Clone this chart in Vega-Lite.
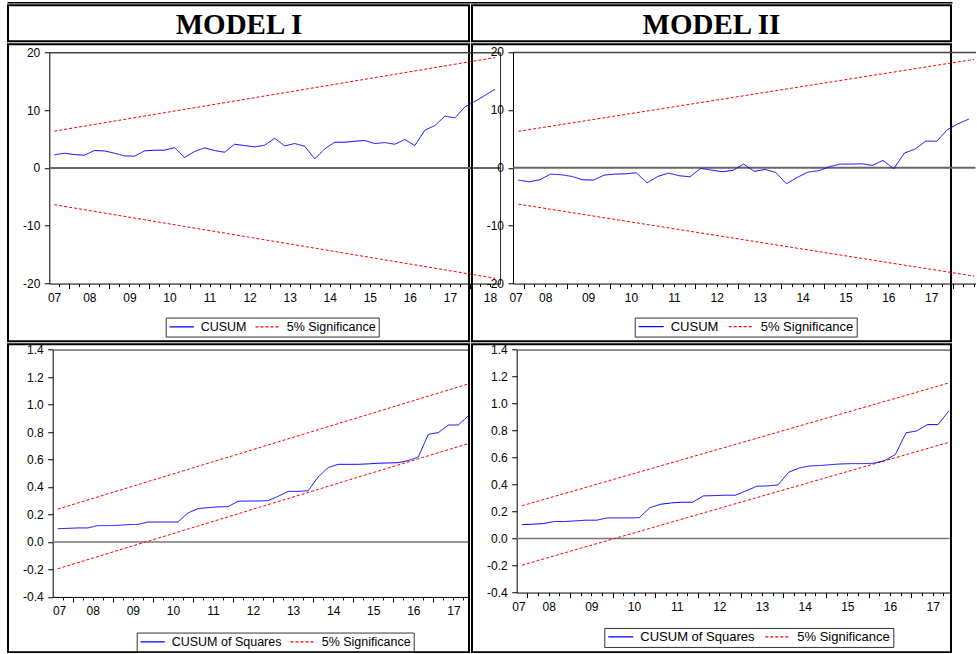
{
"$schema": "https://vega.github.io/schema/vega-lite/v6.json",
"padding": {"left": 7, "top": 1.25, "right": 0, "bottom": 0},
"background": "white",
"datasets": {
"m1": [
{"t":2007.625,"v":2.25,"s":"CUSUM"},{"t":2007.875,"v":2.54,"s":"CUSUM"},{"t":2008.125,"v":2.31,"s":"CUSUM"},{"t":2008.375,"v":2.19,"s":"CUSUM"},
{"t":2008.625,"v":3.0,"s":"CUSUM"},{"t":2008.875,"v":2.94,"s":"CUSUM"},{"t":2009.125,"v":2.54,"s":"CUSUM"},{"t":2009.375,"v":2.08,"s":"CUSUM"},
{"t":2009.625,"v":2.02,"s":"CUSUM"},{"t":2009.875,"v":2.94,"s":"CUSUM"},{"t":2010.125,"v":3.06,"s":"CUSUM"},{"t":2010.375,"v":3.06,"s":"CUSUM"},
{"t":2010.625,"v":3.52,"s":"CUSUM"},{"t":2010.875,"v":1.79,"s":"CUSUM"},{"t":2011.125,"v":2.83,"s":"CUSUM"},{"t":2011.375,"v":3.46,"s":"CUSUM"},
{"t":2011.625,"v":3.0,"s":"CUSUM"},{"t":2011.875,"v":2.71,"s":"CUSUM"},{"t":2012.125,"v":4.09,"s":"CUSUM"},{"t":2012.375,"v":3.86,"s":"CUSUM"},
{"t":2012.625,"v":3.63,"s":"CUSUM"},{"t":2012.875,"v":3.92,"s":"CUSUM"},{"t":2013.125,"v":5.13,"s":"CUSUM"},{"t":2013.375,"v":3.81,"s":"CUSUM"},
{"t":2013.625,"v":4.21,"s":"CUSUM"},{"t":2013.875,"v":3.75,"s":"CUSUM"},{"t":2014.125,"v":1.56,"s":"CUSUM"},{"t":2014.375,"v":3.29,"s":"CUSUM"},
{"t":2014.625,"v":4.44,"s":"CUSUM"},{"t":2014.875,"v":4.44,"s":"CUSUM"},{"t":2015.125,"v":4.61,"s":"CUSUM"},{"t":2015.375,"v":4.73,"s":"CUSUM"},
{"t":2015.625,"v":4.21,"s":"CUSUM"},{"t":2015.875,"v":4.38,"s":"CUSUM"},{"t":2016.125,"v":4.09,"s":"CUSUM"},{"t":2016.375,"v":4.9,"s":"CUSUM"},
{"t":2016.625,"v":3.86,"s":"CUSUM"},{"t":2016.875,"v":6.52,"s":"CUSUM"},{"t":2017.125,"v":7.33,"s":"CUSUM"},{"t":2017.375,"v":8.94,"s":"CUSUM"},
{"t":2017.625,"v":8.65,"s":"CUSUM"},{"t":2017.875,"v":10.55,"s":"CUSUM"},{"t":2018.125,"v":11.5,"s":"CUSUM"},{"t":2018.375,"v":12.55,"s":"CUSUM"},
{"t":2018.625,"v":13.6,"s":"CUSUM"}
],
"m1b": [
{"t":2007.625,"v":6.36,"s":"5% Significance","b":"upper"},{"t":2018.625,"v":19.08,"s":"5% Significance","b":"upper"},
{"t":2007.625,"v":-6.36,"s":"5% Significance","b":"lower"},{"t":2018.625,"v":-19.08,"s":"5% Significance","b":"lower"}
],
"m2": [
{"t":2007.875,"v":-2.13,"s":"CUSUM"},{"t":2008.125,"v":-2.42,"s":"CUSUM"},{"t":2008.375,"v":-2.08,"s":"CUSUM"},{"t":2008.625,"v":-1.1,"s":"CUSUM"},
{"t":2008.875,"v":-1.21,"s":"CUSUM"},{"t":2009.125,"v":-1.5,"s":"CUSUM"},{"t":2009.375,"v":-2.08,"s":"CUSUM"},{"t":2009.625,"v":-2.13,"s":"CUSUM"},
{"t":2009.875,"v":-1.27,"s":"CUSUM"},{"t":2010.125,"v":-1.1,"s":"CUSUM"},{"t":2010.375,"v":-1.04,"s":"CUSUM"},{"t":2010.625,"v":-0.87,"s":"CUSUM"},
{"t":2010.875,"v":-2.6,"s":"CUSUM"},{"t":2011.125,"v":-1.5,"s":"CUSUM"},{"t":2011.375,"v":-0.92,"s":"CUSUM"},{"t":2011.625,"v":-1.38,"s":"CUSUM"},
{"t":2011.875,"v":-1.56,"s":"CUSUM"},{"t":2012.125,"v":-0.12,"s":"CUSUM"},{"t":2012.375,"v":-0.4,"s":"CUSUM"},{"t":2012.625,"v":-0.69,"s":"CUSUM"},
{"t":2012.875,"v":-0.46,"s":"CUSUM"},{"t":2013.125,"v":0.63,"s":"CUSUM"},{"t":2013.375,"v":-0.63,"s":"CUSUM"},{"t":2013.625,"v":-0.29,"s":"CUSUM"},
{"t":2013.875,"v":-0.81,"s":"CUSUM"},{"t":2014.125,"v":-2.77,"s":"CUSUM"},{"t":2014.375,"v":-1.67,"s":"CUSUM"},{"t":2014.625,"v":-0.75,"s":"CUSUM"},
{"t":2014.875,"v":-0.52,"s":"CUSUM"},{"t":2015.125,"v":0.17,"s":"CUSUM"},{"t":2015.375,"v":0.63,"s":"CUSUM"},{"t":2015.625,"v":0.63,"s":"CUSUM"},
{"t":2015.875,"v":0.69,"s":"CUSUM"},{"t":2016.125,"v":0.4,"s":"CUSUM"},{"t":2016.375,"v":1.27,"s":"CUSUM"},{"t":2016.625,"v":-0.17,"s":"CUSUM"},
{"t":2016.875,"v":2.54,"s":"CUSUM"},{"t":2017.125,"v":3.23,"s":"CUSUM"},{"t":2017.375,"v":4.61,"s":"CUSUM"},{"t":2017.625,"v":4.56,"s":"CUSUM"},
{"t":2017.875,"v":6.57,"s":"CUSUM"},{"t":2018.125,"v":7.6,"s":"CUSUM"},{"t":2018.375,"v":8.4,"s":"CUSUM"}
],
"m2b": [
{"t":2007.875,"v":6.29,"s":"5% Significance","b":"upper"},{"t":2018.5,"v":18.72,"s":"5% Significance","b":"upper"},
{"t":2007.875,"v":-6.29,"s":"5% Significance","b":"lower"},{"t":2018.5,"v":-18.72,"s":"5% Significance","b":"lower"}
],
"q1": [
{"t":2007.625,"v":0.097,"s":"CUSUM of Squares"},{"t":2007.875,"v":0.099,"s":"CUSUM of Squares"},{"t":2008.125,"v":0.102,"s":"CUSUM of Squares"},{"t":2008.375,"v":0.102,"s":"CUSUM of Squares"},
{"t":2008.625,"v":0.119,"s":"CUSUM of Squares"},{"t":2008.875,"v":0.119,"s":"CUSUM of Squares"},{"t":2009.125,"v":0.121,"s":"CUSUM of Squares"},{"t":2009.375,"v":0.126,"s":"CUSUM of Squares"},
{"t":2009.625,"v":0.128,"s":"CUSUM of Squares"},{"t":2009.875,"v":0.145,"s":"CUSUM of Squares"},{"t":2010.125,"v":0.145,"s":"CUSUM of Squares"},{"t":2010.375,"v":0.145,"s":"CUSUM of Squares"},
{"t":2010.625,"v":0.145,"s":"CUSUM of Squares"},{"t":2010.875,"v":0.211,"s":"CUSUM of Squares"},{"t":2011.125,"v":0.242,"s":"CUSUM of Squares"},{"t":2011.375,"v":0.25,"s":"CUSUM of Squares"},
{"t":2011.625,"v":0.255,"s":"CUSUM of Squares"},{"t":2011.875,"v":0.257,"s":"CUSUM of Squares"},{"t":2012.125,"v":0.296,"s":"CUSUM of Squares"},{"t":2012.375,"v":0.298,"s":"CUSUM of Squares"},
{"t":2012.625,"v":0.298,"s":"CUSUM of Squares"},{"t":2012.875,"v":0.301,"s":"CUSUM of Squares"},{"t":2013.125,"v":0.332,"s":"CUSUM of Squares"},{"t":2013.375,"v":0.368,"s":"CUSUM of Squares"},
{"t":2013.625,"v":0.368,"s":"CUSUM of Squares"},{"t":2013.875,"v":0.373,"s":"CUSUM of Squares"},{"t":2014.125,"v":0.473,"s":"CUSUM of Squares"},{"t":2014.375,"v":0.541,"s":"CUSUM of Squares"},
{"t":2014.625,"v":0.565,"s":"CUSUM of Squares"},{"t":2014.875,"v":0.565,"s":"CUSUM of Squares"},{"t":2015.125,"v":0.565,"s":"CUSUM of Squares"},{"t":2015.375,"v":0.568,"s":"CUSUM of Squares"},
{"t":2015.625,"v":0.573,"s":"CUSUM of Squares"},{"t":2015.875,"v":0.575,"s":"CUSUM of Squares"},{"t":2016.125,"v":0.577,"s":"CUSUM of Squares"},{"t":2016.375,"v":0.592,"s":"CUSUM of Squares"},
{"t":2016.625,"v":0.618,"s":"CUSUM of Squares"},{"t":2016.875,"v":0.783,"s":"CUSUM of Squares"},{"t":2017.125,"v":0.796,"s":"CUSUM of Squares"},{"t":2017.375,"v":0.851,"s":"CUSUM of Squares"},
{"t":2017.625,"v":0.851,"s":"CUSUM of Squares"},{"t":2017.875,"v":0.919,"s":"CUSUM of Squares"}
],
"q1b": [
{"t":2007.625,"v":0.239,"s":"5% Significance","b":"upper"},{"t":2017.875,"v":1.15,"s":"5% Significance","b":"upper"},
{"t":2007.625,"v":-0.195,"s":"5% Significance","b":"lower"},{"t":2017.875,"v":0.716,"s":"5% Significance","b":"lower"}
],
"q2": [
{"t":2007.875,"v":0.104,"s":"CUSUM of Squares"},{"t":2008.125,"v":0.106,"s":"CUSUM of Squares"},{"t":2008.375,"v":0.111,"s":"CUSUM of Squares"},{"t":2008.625,"v":0.126,"s":"CUSUM of Squares"},
{"t":2008.875,"v":0.126,"s":"CUSUM of Squares"},{"t":2009.125,"v":0.131,"s":"CUSUM of Squares"},{"t":2009.375,"v":0.136,"s":"CUSUM of Squares"},{"t":2009.625,"v":0.136,"s":"CUSUM of Squares"},
{"t":2009.875,"v":0.153,"s":"CUSUM of Squares"},{"t":2010.125,"v":0.153,"s":"CUSUM of Squares"},{"t":2010.375,"v":0.153,"s":"CUSUM of Squares"},{"t":2010.625,"v":0.155,"s":"CUSUM of Squares"},
{"t":2010.875,"v":0.229,"s":"CUSUM of Squares"},{"t":2011.125,"v":0.254,"s":"CUSUM of Squares"},{"t":2011.375,"v":0.264,"s":"CUSUM of Squares"},{"t":2011.625,"v":0.269,"s":"CUSUM of Squares"},
{"t":2011.875,"v":0.269,"s":"CUSUM of Squares"},{"t":2012.125,"v":0.316,"s":"CUSUM of Squares"},{"t":2012.375,"v":0.318,"s":"CUSUM of Squares"},{"t":2012.625,"v":0.321,"s":"CUSUM of Squares"},
{"t":2012.875,"v":0.321,"s":"CUSUM of Squares"},{"t":2013.125,"v":0.353,"s":"CUSUM of Squares"},{"t":2013.375,"v":0.387,"s":"CUSUM of Squares"},{"t":2013.625,"v":0.39,"s":"CUSUM of Squares"},
{"t":2013.875,"v":0.397,"s":"CUSUM of Squares"},{"t":2014.125,"v":0.491,"s":"CUSUM of Squares"},{"t":2014.375,"v":0.523,"s":"CUSUM of Squares"},{"t":2014.625,"v":0.538,"s":"CUSUM of Squares"},
{"t":2014.875,"v":0.541,"s":"CUSUM of Squares"},{"t":2015.125,"v":0.548,"s":"CUSUM of Squares"},{"t":2015.375,"v":0.553,"s":"CUSUM of Squares"},{"t":2015.625,"v":0.555,"s":"CUSUM of Squares"},
{"t":2015.875,"v":0.555,"s":"CUSUM of Squares"},{"t":2016.125,"v":0.558,"s":"CUSUM of Squares"},{"t":2016.375,"v":0.578,"s":"CUSUM of Squares"},{"t":2016.625,"v":0.622,"s":"CUSUM of Squares"},
{"t":2016.875,"v":0.783,"s":"CUSUM of Squares"},{"t":2017.125,"v":0.797,"s":"CUSUM of Squares"},{"t":2017.375,"v":0.844,"s":"CUSUM of Squares"},{"t":2017.625,"v":0.844,"s":"CUSUM of Squares"},
{"t":2017.875,"v":0.943,"s":"CUSUM of Squares"}
],
"q2b": [
{"t":2007.875,"v":0.243,"s":"5% Significance","b":"upper"},{"t":2017.875,"v":1.152,"s":"5% Significance","b":"upper"},
{"t":2007.875,"v":-0.197,"s":"5% Significance","b":"lower"},{"t":2017.875,"v":0.712,"s":"5% Significance","b":"lower"}
]
},
"columns": 2,
"spacing": {"row": 3, "column": 3},
"bounds": "flush",
"resolve": {"scale": {"color": "independent", "strokeDash": "independent"}, "legend": {"color": "independent", "strokeDash": "independent"}},
"concat": [
 {"width": 461, "height": 36, "data": {"values": [{"m": "MODEL I"}]},
  "mark": {"type": "text", "font": "Liberation Serif", "fontWeight": "bold", "fontSize": 29, "baseline": "alphabetic", "dy": 11, "color": "black"},
  "encoding": {
   "x": {"datum": 0.5, "type": "quantitative", "scale": {"domain": [0, 1], "range": [-1, 463], "nice": false, "zero": false}, "axis": {"orient": "top", "offset": 3, "labels": false, "ticks": false, "domainColor": "black", "domainWidth": 1.5, "title": null}},
   "y": {"datum": 0.5, "type": "quantitative", "scale": {"domain": [0, 1], "range": [36, 0], "nice": false, "zero": false}, "axis": null},
   "text": {"field": "m"}}},
 {"width": 479, "height": 36, "data": {"values": [{"m": "MODEL II"}]},
  "mark": {"type": "text", "font": "Liberation Serif", "fontWeight": "bold", "fontSize": 29, "baseline": "alphabetic", "dy": 11, "color": "black"},
  "encoding": {
   "x": {"datum": 0.5, "type": "quantitative", "scale": {"domain": [0, 1], "range": [-1, 480], "nice": false, "zero": false}, "axis": {"orient": "top", "offset": 3, "labels": false, "ticks": false, "domainColor": "black", "domainWidth": 1.5, "title": null}},
   "y": {"datum": 0.5, "type": "quantitative", "scale": {"domain": [0, 1], "range": [36, 0], "nice": false, "zero": false}, "axis": null},
   "text": {"field": "m"}}},
  {"width": 461, "height": 297,
   "layer": [
    {"data": {"values": [{}]},
     "mark": {"type": "rule", "color": "#666666", "strokeWidth": 2},
     "encoding": {
      "x": {"datum": 2007.5, "type": "quantitative", "scale": {"domain": [2007.5, 2018.75], "range": [41.3, 492], "nice": false, "zero": false}, "axis": {"orient": "top", "offset": -8, "labels": false, "ticks": false, "domainColor": "#444444", "domainWidth": 1.5, "title": null}},
      "x2": {"datum": 2018.75},
      "y": {"datum": 0, "type": "quantitative", "scale": {"domain": [-20, 20], "range": [239.3, 8], "nice": false, "zero": false}, "axis": {"orient": "right", "offset": 31, "labels": false, "ticks": false, "domainColor": "#333333", "title": null}}}},
    {"data": {"name": "m1b"}, "transform": [{"filter": "datum.b == 'upper'"}],
     "mark": {"type": "line", "strokeWidth": 1},
     "encoding": {
      "x": {"field": "t", "type": "quantitative", "scale": {"domain": [2007.5, 2018.75], "range": [41.3, 492], "nice": false, "zero": false}, "axis": {"orient": "bottom", "offset": -57.7, "values": [2007.75,2008.25,2008.5,2008.75,2009.25,2009.5,2009.75,2010.25,2010.5,2010.75,2011.25,2011.5,2011.75,2012.25,2012.5,2012.75,2013.25,2013.5,2013.75,2014.25,2014.5,2014.75,2015.25,2015.5,2015.75,2016.25,2016.5,2016.75,2017.25,2017.5,2017.75,2018.25,2018.5], "labels": false, "domain": false, "tickSize": 3, "title": null}},
      "y": {"field": "v", "type": "quantitative", "scale": {"domain": [-20, 20], "range": [239.3, 8], "nice": false, "zero": false}, "axis": null},
      "color": {"field": "s", "type": "nominal", "scale": {"domain": ["CUSUM", "5% Significance"], "range": ["#0000ff", "#ff0000"]}, "legend": {"title": null, "orient": "none", "legendX": 157.7, "legendY": 273.3, "direction": "horizontal", "symbolType": "stroke", "symbolSize": 595, "symbolStrokeWidth": 1.2, "labelFontSize": 12.5, "labelFont": "Liberation Sans", "labelColor": "black", "strokeColor": "#333333", "padding": 3, "clipHeight": 12, "columnPadding": 8, "labelOffset": 6}},
      "strokeDash": {"field": "s", "type": "nominal", "scale": {"domain": ["CUSUM", "5% Significance"], "range": [[1, 0], [3, 2]]}, "legend": {"title": null, "orient": "none", "legendX": 157.7, "legendY": 273.3, "direction": "horizontal", "symbolType": "stroke", "symbolSize": 595, "symbolStrokeWidth": 1.2, "labelFontSize": 12.5, "labelFont": "Liberation Sans", "labelColor": "black", "strokeColor": "#333333", "padding": 3, "clipHeight": 12, "columnPadding": 8, "labelOffset": 6}}}},
    {"data": {"name": "m1b"}, "transform": [{"filter": "datum.b == 'lower'"}],
     "mark": {"type": "line", "strokeWidth": 1},
     "encoding": {
      "x": {"field": "t", "type": "quantitative", "scale": {"domain": [2007.5, 2018.75], "range": [41.3, 492], "nice": false, "zero": false}, "axis": {"orient": "bottom", "offset": -57.7, "values": [2007.62,2008.5,2009.5,2010.5,2011.5,2012.5,2013.5,2014.5,2015.5,2016.5,2017.5,2018.5], "ticks": false, "domain": false, "labelPadding": 8.5, "labelExpr": "format(floor(datum.value) % 100, '02d')", "labelFlush": false, "labelOverlap": false, "labelBound": false, "title": null}},
      "y": {"field": "v", "type": "quantitative", "scale": {"domain": [-20, 20], "range": [239.3, 8], "nice": false, "zero": false}, "axis": null},
      "color": {"field": "s", "type": "nominal", "scale": {"domain": ["CUSUM", "5% Significance"], "range": ["#0000ff", "#ff0000"]}},
      "strokeDash": {"field": "s", "type": "nominal", "scale": {"domain": ["CUSUM", "5% Significance"], "range": [[1, 0], [3, 2]]}}}},
    {"data": {"name": "m1"},
     "mark": {"type": "line", "strokeWidth": 1},
     "encoding": {
      "x": {"field": "t", "type": "quantitative", "scale": {"domain": [2007.5, 2018.75], "range": [41.3, 492], "nice": false, "zero": false}, "axis": {"orient": "bottom", "offset": -57.7, "values": [2008,2009,2010,2011,2012,2013,2014,2015,2016,2017,2018], "labels": false, "tickSize": 5, "title": null}},
      "y": {"field": "v", "type": "quantitative", "scale": {"domain": [-20, 20], "range": [239.3, 8], "nice": false, "zero": false}, "axis": {"orient": "left", "offset": -41.3, "values": [-20, -10, 0, 10, 20], "tickSize": 5, "labelPadding": 4.5, "labelExpr": "toString(datum.value)", "labelFlush": false, "labelOverlap": false, "title": null}},
      "color": {"field": "s", "type": "nominal", "scale": {"domain": ["CUSUM", "5% Significance"], "range": ["#0000ff", "#ff0000"]}},
      "strokeDash": {"field": "s", "type": "nominal", "scale": {"domain": ["CUSUM", "5% Significance"], "range": [[1, 0], [3, 2]]}}}}
   ],
   "resolve": {"axis": {"x": "independent", "y": "independent"}}},
  {"width": 479, "height": 297,
   "layer": [
    {"data": {"values": [{}]},
     "mark": {"type": "rule", "color": "#666666", "strokeWidth": 2},
     "encoding": {
      "x": {"datum": 2007.75, "type": "quantitative", "scale": {"domain": [2007.75, 2018.531], "range": [41, 503.5], "nice": false, "zero": false}, "axis": {"orient": "top", "offset": -7.7, "labels": false, "ticks": false, "domainColor": "#444444", "domainWidth": 1.5, "title": null}},
      "x2": {"datum": 2018.531},
      "y": {"datum": 0, "type": "quantitative", "scale": {"domain": [-20, 20], "range": [239.3, 7.7], "nice": false, "zero": false}, "axis": null}}},
    {"data": {"name": "m2b"}, "transform": [{"filter": "datum.b == 'upper'"}],
     "mark": {"type": "line", "strokeWidth": 1},
     "encoding": {
      "x": {"field": "t", "type": "quantitative", "scale": {"domain": [2007.75, 2018.531], "range": [41, 503.5], "nice": false, "zero": false}, "axis": {"orient": "bottom", "offset": -57.7, "values": [2008.25,2008.5,2008.75,2009.25,2009.5,2009.75,2010.25,2010.5,2010.75,2011.25,2011.5,2011.75,2012.25,2012.5,2012.75,2013.25,2013.5,2013.75,2014.25,2014.5,2014.75,2015.25,2015.5,2015.75,2016.25,2016.5,2016.75,2017.25,2017.5,2017.75,2018.25,2018.5], "labels": false, "domain": false, "tickSize": 3, "title": null}},
      "y": {"field": "v", "type": "quantitative", "scale": {"domain": [-20, 20], "range": [239.3, 7.7], "nice": false, "zero": false}, "axis": null},
      "color": {"field": "s", "type": "nominal", "scale": {"domain": ["CUSUM", "5% Significance"], "range": ["#0000ff", "#ff0000"]}, "legend": {"title": null, "orient": "none", "legendX": 162.7, "legendY": 273.3, "direction": "horizontal", "symbolType": "stroke", "symbolSize": 625, "symbolStrokeWidth": 1.2, "labelFontSize": 13, "labelFont": "Liberation Sans", "labelColor": "black", "strokeColor": "#333333", "padding": 3, "clipHeight": 12, "columnPadding": 9, "labelOffset": 6}},
      "strokeDash": {"field": "s", "type": "nominal", "scale": {"domain": ["CUSUM", "5% Significance"], "range": [[1, 0], [3, 2]]}, "legend": {"title": null, "orient": "none", "legendX": 162.7, "legendY": 273.3, "direction": "horizontal", "symbolType": "stroke", "symbolSize": 625, "symbolStrokeWidth": 1.2, "labelFontSize": 13, "labelFont": "Liberation Sans", "labelColor": "black", "strokeColor": "#333333", "padding": 3, "clipHeight": 12, "columnPadding": 9, "labelOffset": 6}}}},
    {"data": {"name": "m2b"}, "transform": [{"filter": "datum.b == 'lower'"}],
     "mark": {"type": "line", "strokeWidth": 1},
     "encoding": {
      "x": {"field": "t", "type": "quantitative", "scale": {"domain": [2007.75, 2018.531], "range": [41, 503.5], "nice": false, "zero": false}, "axis": {"orient": "bottom", "offset": -57.7, "values": [2007.81,2008.5,2009.5,2010.5,2011.5,2012.5,2013.5,2014.5,2015.5,2016.5,2017.5], "ticks": false, "domain": false, "labelPadding": 8.5, "labelExpr": "format(floor(datum.value) % 100, '02d')", "labelFlush": false, "labelOverlap": false, "labelBound": false, "title": null}},
      "y": {"field": "v", "type": "quantitative", "scale": {"domain": [-20, 20], "range": [239.3, 7.7], "nice": false, "zero": false}, "axis": null},
      "color": {"field": "s", "type": "nominal", "scale": {"domain": ["CUSUM", "5% Significance"], "range": ["#0000ff", "#ff0000"]}},
      "strokeDash": {"field": "s", "type": "nominal", "scale": {"domain": ["CUSUM", "5% Significance"], "range": [[1, 0], [3, 2]]}}}},
    {"data": {"name": "m2"},
     "mark": {"type": "line", "strokeWidth": 1},
     "encoding": {
      "x": {"field": "t", "type": "quantitative", "scale": {"domain": [2007.75, 2018.531], "range": [41, 503.5], "nice": false, "zero": false}, "axis": {"orient": "bottom", "offset": -57.7, "values": [2008,2009,2010,2011,2012,2013,2014,2015,2016,2017,2018], "labels": false, "tickSize": 5, "title": null}},
      "y": {"field": "v", "type": "quantitative", "scale": {"domain": [-20, 20], "range": [239.3, 7.7], "nice": false, "zero": false}, "axis": {"orient": "left", "offset": -41, "values": [-20, -10, 0, 10, 20], "tickSize": 5, "labelPadding": 4.5, "labelExpr": "toString(datum.value)", "labelFlush": false, "labelOverlap": false, "title": null}},
      "color": {"field": "s", "type": "nominal", "scale": {"domain": ["CUSUM", "5% Significance"], "range": ["#0000ff", "#ff0000"]}},
      "strokeDash": {"field": "s", "type": "nominal", "scale": {"domain": ["CUSUM", "5% Significance"], "range": [[1, 0], [3, 2]]}}}}
   ],
   "resolve": {"axis": {"x": "independent", "y": "independent"}}},
  {"width": 461, "height": 308,
   "layer": [
    {"data": {"values": [{}]},
     "mark": {"type": "rule", "color": "#777777", "strokeWidth": 1.5},
     "encoding": {
      "x": {"datum": 2007.5, "type": "quantitative", "scale": {"domain": [2007.5, 2017.875], "range": [44.7, 460.4], "nice": false, "zero": false}, "axis": {"orient": "top", "offset": -5.3, "labels": false, "ticks": false, "domainColor": "#222222", "title": null}},
      "x2": {"datum": 2017.875},
      "y": {"datum": 0, "type": "quantitative", "scale": {"domain": [-0.4, 1.4], "range": [252.7, 5.3], "nice": false, "zero": false}, "axis": null}}},
    {"data": {"name": "q1b"}, "transform": [{"filter": "datum.b == 'upper'"}],
     "mark": {"type": "line", "strokeWidth": 1},
     "encoding": {
      "x": {"field": "t", "type": "quantitative", "scale": {"domain": [2007.5, 2017.875], "range": [44.7, 460.4], "nice": false, "zero": false}, "axis": {"orient": "bottom", "offset": -55.3, "values": [2007.75,2008.25,2008.5,2008.75,2009.25,2009.5,2009.75,2010.25,2010.5,2010.75,2011.25,2011.5,2011.75,2012.25,2012.5,2012.75,2013.25,2013.5,2013.75,2014.25,2014.5,2014.75,2015.25,2015.5,2015.75,2016.25,2016.5,2016.75,2017.25,2017.5,2017.75], "labels": false, "domain": false, "tickSize": 3, "title": null}},
      "y": {"field": "v", "type": "quantitative", "scale": {"domain": [-0.4, 1.4], "range": [252.7, 5.3], "nice": false, "zero": false}, "axis": null},
      "color": {"field": "s", "type": "nominal", "scale": {"domain": ["CUSUM of Squares", "5% Significance"], "range": ["#0000ff", "#ff0000"]}, "legend": {"title": null, "orient": "none", "legendX": 128.7, "legendY": 288.3, "direction": "horizontal", "symbolType": "stroke", "symbolSize": 590, "symbolStrokeWidth": 1.2, "labelFontSize": 12.5, "labelFont": "Liberation Sans", "labelColor": "black", "strokeColor": "#333333", "padding": 3, "clipHeight": 12, "columnPadding": 8, "labelOffset": 6}},
      "strokeDash": {"field": "s", "type": "nominal", "scale": {"domain": ["CUSUM of Squares", "5% Significance"], "range": [[1, 0], [3, 2]]}, "legend": {"title": null, "orient": "none", "legendX": 128.7, "legendY": 288.3, "direction": "horizontal", "symbolType": "stroke", "symbolSize": 590, "symbolStrokeWidth": 1.2, "labelFontSize": 12.5, "labelFont": "Liberation Sans", "labelColor": "black", "strokeColor": "#333333", "padding": 3, "clipHeight": 12, "columnPadding": 8, "labelOffset": 6}}}},
    {"data": {"name": "q1b"}, "transform": [{"filter": "datum.b == 'lower'"}],
     "mark": {"type": "line", "strokeWidth": 1},
     "encoding": {
      "x": {"field": "t", "type": "quantitative", "scale": {"domain": [2007.5, 2017.875], "range": [44.7, 460.4], "nice": false, "zero": false}, "axis": {"orient": "bottom", "offset": -55.3, "values": [2007.66,2008.5,2009.5,2010.5,2011.5,2012.5,2013.5,2014.5,2015.5,2016.5,2017.5], "ticks": false, "domain": false, "labelPadding": 8.5, "labelExpr": "format(floor(datum.value) % 100, '02d')", "labelFlush": false, "labelOverlap": false, "labelBound": false, "title": null}},
      "y": {"field": "v", "type": "quantitative", "scale": {"domain": [-0.4, 1.4], "range": [252.7, 5.3], "nice": false, "zero": false}, "axis": null},
      "color": {"field": "s", "type": "nominal", "scale": {"domain": ["CUSUM of Squares", "5% Significance"], "range": ["#0000ff", "#ff0000"]}},
      "strokeDash": {"field": "s", "type": "nominal", "scale": {"domain": ["CUSUM of Squares", "5% Significance"], "range": [[1, 0], [3, 2]]}}}},
    {"data": {"name": "q1"},
     "mark": {"type": "line", "strokeWidth": 1},
     "encoding": {
      "x": {"field": "t", "type": "quantitative", "scale": {"domain": [2007.5, 2017.875], "range": [44.7, 460.4], "nice": false, "zero": false}, "axis": {"orient": "bottom", "offset": -55.3, "values": [2008,2009,2010,2011,2012,2013,2014,2015,2016,2017], "labels": false, "tickSize": 5, "title": null}},
      "y": {"field": "v", "type": "quantitative", "scale": {"domain": [-0.4, 1.4], "range": [252.7, 5.3], "nice": false, "zero": false}, "axis": {"orient": "left", "offset": -44.7, "values": [-0.4, -0.2, 0, 0.2, 0.4, 0.6, 0.8, 1.0, 1.2, 1.4], "tickSize": 5, "labelPadding": 4.5, "labelExpr": "replace(format(datum.value, '.1f'), '\u2212', '-')", "labelFlush": false, "labelOverlap": false, "title": null}},
      "color": {"field": "s", "type": "nominal", "scale": {"domain": ["CUSUM of Squares", "5% Significance"], "range": ["#0000ff", "#ff0000"]}},
      "strokeDash": {"field": "s", "type": "nominal", "scale": {"domain": ["CUSUM of Squares", "5% Significance"], "range": [[1, 0], [3, 2]]}}}}
   ],
   "resolve": {"axis": {"x": "independent", "y": "independent"}}},
  {"width": 479, "height": 308,
   "layer": [
    {"data": {"values": [{}]},
     "mark": {"type": "rule", "color": "#777777", "strokeWidth": 1.5},
     "encoding": {
      "x": {"datum": 2007.75, "type": "quantitative", "scale": {"domain": [2007.75, 2017.9], "range": [44.7, 477.7], "nice": false, "zero": false}, "axis": {"orient": "top", "offset": -5.3, "labels": false, "ticks": false, "domainColor": "#222222", "title": null}},
      "x2": {"datum": 2017.9},
      "y": {"datum": 0, "type": "quantitative", "scale": {"domain": [-0.4, 1.4], "range": [248.3, 5.3], "nice": false, "zero": false}, "axis": null}}},
    {"data": {"name": "q2b"}, "transform": [{"filter": "datum.b == 'upper'"}],
     "mark": {"type": "line", "strokeWidth": 1},
     "encoding": {
      "x": {"field": "t", "type": "quantitative", "scale": {"domain": [2007.75, 2017.9], "range": [44.7, 477.7], "nice": false, "zero": false}, "axis": {"orient": "bottom", "offset": -59.7, "values": [2008.25,2008.5,2008.75,2009.25,2009.5,2009.75,2010.25,2010.5,2010.75,2011.25,2011.5,2011.75,2012.25,2012.5,2012.75,2013.25,2013.5,2013.75,2014.25,2014.5,2014.75,2015.25,2015.5,2015.75,2016.25,2016.5,2016.75,2017.25,2017.5,2017.75], "labels": false, "domain": false, "tickSize": 3, "title": null}},
      "y": {"field": "v", "type": "quantitative", "scale": {"domain": [-0.4, 1.4], "range": [248.3, 5.3], "nice": false, "zero": false}, "axis": null},
      "color": {"field": "s", "type": "nominal", "scale": {"domain": ["CUSUM of Squares", "5% Significance"], "range": ["#0000ff", "#ff0000"]}, "legend": {"title": null, "orient": "none", "legendX": 132.3, "legendY": 283.7, "direction": "horizontal", "symbolType": "stroke", "symbolSize": 625, "symbolStrokeWidth": 1.2, "labelFontSize": 13, "labelFont": "Liberation Sans", "labelColor": "black", "strokeColor": "#333333", "padding": 3, "clipHeight": 12, "columnPadding": 9, "labelOffset": 6}},
      "strokeDash": {"field": "s", "type": "nominal", "scale": {"domain": ["CUSUM of Squares", "5% Significance"], "range": [[1, 0], [3, 2]]}, "legend": {"title": null, "orient": "none", "legendX": 132.3, "legendY": 283.7, "direction": "horizontal", "symbolType": "stroke", "symbolSize": 625, "symbolStrokeWidth": 1.2, "labelFontSize": 13, "labelFont": "Liberation Sans", "labelColor": "black", "strokeColor": "#333333", "padding": 3, "clipHeight": 12, "columnPadding": 9, "labelOffset": 6}}}},
    {"data": {"name": "q2b"}, "transform": [{"filter": "datum.b == 'lower'"}],
     "mark": {"type": "line", "strokeWidth": 1},
     "encoding": {
      "x": {"field": "t", "type": "quantitative", "scale": {"domain": [2007.75, 2017.9], "range": [44.7, 477.7], "nice": false, "zero": false}, "axis": {"orient": "bottom", "offset": -59.7, "values": [2007.79,2008.5,2009.5,2010.5,2011.5,2012.5,2013.5,2014.5,2015.5,2016.5,2017.5], "ticks": false, "domain": false, "labelPadding": 8.5, "labelExpr": "format(floor(datum.value) % 100, '02d')", "labelFlush": false, "labelOverlap": false, "labelBound": false, "title": null}},
      "y": {"field": "v", "type": "quantitative", "scale": {"domain": [-0.4, 1.4], "range": [248.3, 5.3], "nice": false, "zero": false}, "axis": null},
      "color": {"field": "s", "type": "nominal", "scale": {"domain": ["CUSUM of Squares", "5% Significance"], "range": ["#0000ff", "#ff0000"]}},
      "strokeDash": {"field": "s", "type": "nominal", "scale": {"domain": ["CUSUM of Squares", "5% Significance"], "range": [[1, 0], [3, 2]]}}}},
    {"data": {"name": "q2"},
     "mark": {"type": "line", "strokeWidth": 1},
     "encoding": {
      "x": {"field": "t", "type": "quantitative", "scale": {"domain": [2007.75, 2017.9], "range": [44.7, 477.7], "nice": false, "zero": false}, "axis": {"orient": "bottom", "offset": -59.7, "values": [2008,2009,2010,2011,2012,2013,2014,2015,2016,2017], "labels": false, "tickSize": 5, "title": null}},
      "y": {"field": "v", "type": "quantitative", "scale": {"domain": [-0.4, 1.4], "range": [248.3, 5.3], "nice": false, "zero": false}, "axis": {"orient": "left", "offset": -44.7, "values": [-0.4, -0.2, 0, 0.2, 0.4, 0.6, 0.8, 1.0, 1.2, 1.4], "tickSize": 5, "labelPadding": 4.5, "labelExpr": "replace(format(datum.value, '.1f'), '\u2212', '-')", "labelFlush": false, "labelOverlap": false, "title": null}},
      "color": {"field": "s", "type": "nominal", "scale": {"domain": ["CUSUM of Squares", "5% Significance"], "range": ["#0000ff", "#ff0000"]}},
      "strokeDash": {"field": "s", "type": "nominal", "scale": {"domain": ["CUSUM of Squares", "5% Significance"], "range": [[1, 0], [3, 2]]}}}}
   ],
   "resolve": {"axis": {"x": "independent", "y": "independent"}}}
],
"config": {
 "view": {"stroke": "black", "strokeWidth": 2},
 "font": "Liberation Sans",
 "axis": {"labelFont": "Liberation Sans", "labelFontSize": 12, "labelColor": "black", "domainColor": "black", "tickColor": "black", "grid": false, "domainWidth": 1, "tickWidth": 1},
 "legend": {"labelFont": "Liberation Sans"}
}
}
